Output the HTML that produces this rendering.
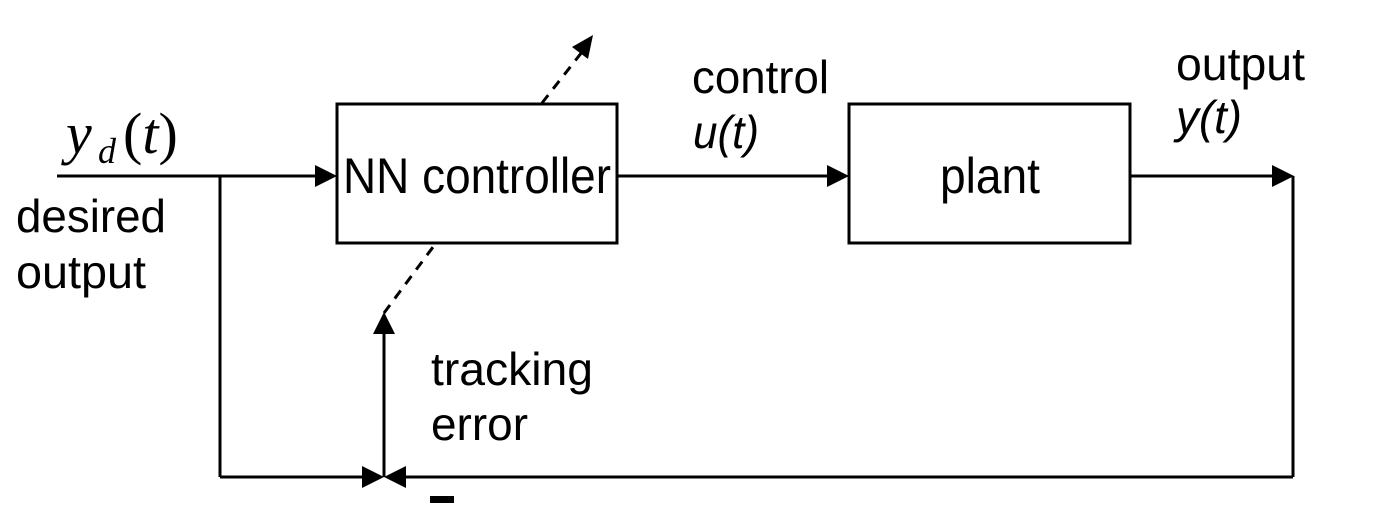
<!DOCTYPE html>
<html><head><meta charset="utf-8"><style>
html,body{margin:0;padding:0;background:#fff;}
svg{display:block;}
text{font-family:"Liberation Sans",Arial,sans-serif;fill:#000;}
</style></head><body>
<svg width="1379" height="523" viewBox="0 0 1379 523" xmlns="http://www.w3.org/2000/svg">
<g stroke="#000" stroke-width="3" fill="none">
<rect x="337" y="104" width="280" height="139"/>
<rect x="849" y="104" width="281" height="139"/>
<line x1="57" y1="176" x2="320" y2="176"/>
<line x1="220" y1="176" x2="220" y2="477"/>
<line x1="617" y1="176" x2="832" y2="176"/>
<line x1="1130" y1="176" x2="1276" y2="176"/>
<line x1="1293" y1="176" x2="1293" y2="477"/>
<line x1="220" y1="477" x2="365" y2="477"/>
<line x1="1293" y1="477" x2="402" y2="477"/>
<line x1="384" y1="477" x2="384" y2="330"/>
<line x1="384" y1="313" x2="436" y2="243" stroke-dasharray="10,8"/>
<line x1="542" y1="103" x2="582" y2="52" stroke-dasharray="10,8"/>
</g>
<g fill="#000">
<polygon points="337,176 315,165 315,187"/>
<polygon points="849,176 827,165 827,187"/>
<polygon points="1294,176 1272,165 1272,187"/>
<polygon points="384,477 362,466 362,488"/>
<polygon points="384,477 406,466 406,488"/>
<polygon points="384,312 373,334 395,334"/>
<polygon points="593,35 572,47 588,59"/>
<rect x="430" y="496" width="24" height="7"/>
</g>
<text x="343" y="193" font-size="50" textLength="268" lengthAdjust="spacingAndGlyphs">NN controller</text>
<text x="940" y="193" font-size="50" textLength="100" lengthAdjust="spacingAndGlyphs">plant</text>
<text x="692" y="93" font-size="46" textLength="137" lengthAdjust="spacingAndGlyphs">control</text>
<text x="693" y="148" font-size="46" font-style="italic" textLength="66" lengthAdjust="spacingAndGlyphs">u(t)</text>
<text x="1176" y="80" font-size="46" textLength="129" lengthAdjust="spacingAndGlyphs">output</text>
<text x="1176" y="133" font-size="46" font-style="italic" textLength="66" lengthAdjust="spacingAndGlyphs">y(t)</text>
<text x="16" y="232" font-size="46" textLength="150" lengthAdjust="spacingAndGlyphs">desired</text>
<text x="16" y="288" font-size="46" textLength="130" lengthAdjust="spacingAndGlyphs">output</text>
<text x="431" y="385" font-size="46" textLength="162" lengthAdjust="spacingAndGlyphs">tracking</text>
<text x="431" y="440" font-size="46" textLength="97" lengthAdjust="spacingAndGlyphs">error</text>
<text x="66" y="153" font-size="58" font-style="italic" style="font-family:'Liberation Serif',serif">y</text>
<text x="98" y="163" font-size="36" font-style="italic" style="font-family:'Liberation Serif',serif">d</text>
<text x="123" y="153" font-size="58" style="font-family:'Liberation Serif',serif">(<tspan font-style="italic">t</tspan>)</text>
</svg>
</body></html>
